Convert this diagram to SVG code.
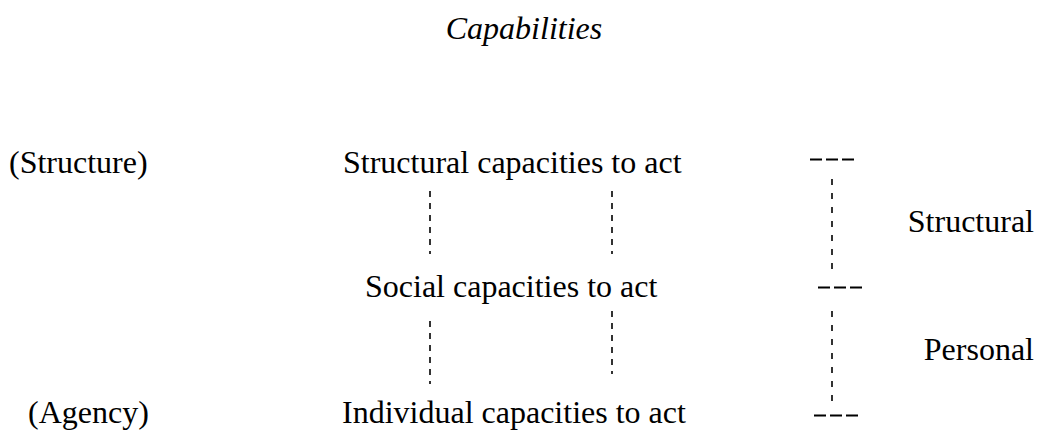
<svg xmlns="http://www.w3.org/2000/svg" width="1040" height="430" viewBox="0 0 1040 430">
  <style>
    .t { font-family: "Liberation Serif", "Times New Roman", serif; font-size: 32px; fill: #000; }
    .title { font-style: italic; }
    .v { stroke: #000; stroke-width: 1.6; stroke-dasharray: 6 6; fill: none; }
    .vr { stroke: #000; stroke-width: 1.6; stroke-dasharray: 6 8; fill: none; }
    .h { stroke: #000; stroke-width: 2; stroke-dasharray: 12 4; fill: none; }
  </style>
  <rect width="1040" height="430" fill="#fff"/>
  <g id="title"><text class="t title" x="524" y="39" text-anchor="middle">Capabilities</text></g>
  <g id="label-structure"><text class="t" x="9" y="173">(Structure)</text></g>
  <g id="label-agency"><text class="t" x="28" y="423">(Agency)</text></g>
  <g id="node-structural"><text class="t" x="343" y="173">Structural capacities to act</text></g>
  <g id="node-social"><text class="t" x="365" y="297">Social capacities to act</text></g>
  <g id="node-individual"><text class="t" x="342" y="423">Individual capacities to act</text></g>
  <g id="label-structural"><text class="t" x="1034" y="232" text-anchor="end">Structural</text></g>
  <g id="label-personal"><text class="t" x="1034" y="360" text-anchor="end">Personal</text></g>
  <g id="connectors">
    <line class="v" x1="430" y1="191" x2="430" y2="254"/>
    <line class="v" x1="612" y1="191" x2="612" y2="254"/>
    <line class="v" x1="430" y1="321" x2="430" y2="384"/>
    <line class="v" x1="612" y1="311" x2="612" y2="374"/>
    <line class="vr" x1="832" y1="179" x2="832" y2="269"/>
    <line class="vr" x1="832" y1="311" x2="832" y2="401"/>
    <line class="h" x1="810" y1="159.5" x2="854" y2="159.5"/>
    <line class="h" x1="818" y1="287.5" x2="862" y2="287.5"/>
    <line class="h" x1="814" y1="415.5" x2="858" y2="415.5"/>
  </g>
</svg>
